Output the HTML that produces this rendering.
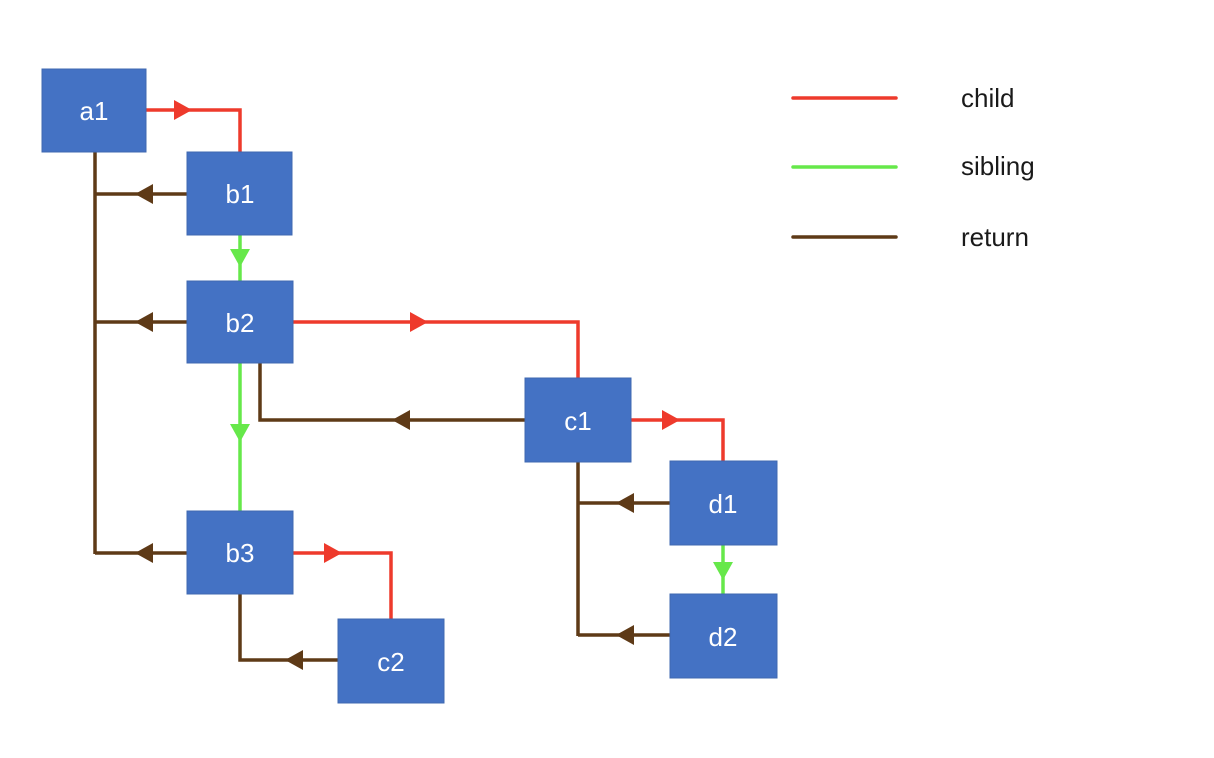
<!DOCTYPE html>
<html><head><meta charset="utf-8"><style>
html,body{margin:0;padding:0;background:#fff;}
svg{display:block;}
text{font-family:"Liberation Sans",sans-serif;}
</style></head><body>
<svg width="1214" height="758" viewBox="0 0 1214 758" xmlns="http://www.w3.org/2000/svg">
<g fill="none" stroke-width="3.5" stroke-linejoin="miter">
<g stroke="#EE3A2C">
<polyline points="146,110 240,110 240,152"/>
<polyline points="293,322 578,322 578,378"/>
<polyline points="631,420 723,420 723,461"/>
<polyline points="293,553 391,553 391,619"/>
</g>
<g stroke="#66E84A">
<line x1="240" y1="235" x2="240" y2="281"/>
<line x1="240" y1="363" x2="240" y2="511"/>
<line x1="723" y1="545" x2="723" y2="594"/>
</g>
<g stroke="#5E3A17">
<line x1="95" y1="152" x2="95" y2="554"/>
<line x1="187" y1="194" x2="95" y2="194"/>
<line x1="187" y1="322" x2="95" y2="322"/>
<line x1="187" y1="553" x2="95" y2="553"/>
<polyline points="525,420 260,420 260,363"/>
<line x1="578" y1="462" x2="578" y2="636"/>
<line x1="670" y1="503" x2="578" y2="503"/>
<line x1="670" y1="635" x2="578" y2="635"/>
<polyline points="338,660 240,660 240,594"/>
</g>
</g>
<g fill="#EE3A2C">
<polygon points="174,100 192,110 174,120"/>
<polygon points="410,312 428,322 410,332"/>
<polygon points="662,410 680,420 662,430"/>
<polygon points="324,543 342,553 324,563"/>
</g>
<g fill="#66E84A">
<polygon points="230,249 250,249 240,267"/>
<polygon points="230,424 250,424 240,442"/>
<polygon points="713,562 733,562 723,580"/>
</g>
<g fill="#5E3A17">
<polygon points="153,184 135,194 153,204"/>
<polygon points="153,312 135,322 153,332"/>
<polygon points="153,543 135,553 153,563"/>
<polygon points="410,410 392,420 410,430"/>
<polygon points="634,493 616,503 634,513"/>
<polygon points="634,625 616,635 634,645"/>
<polygon points="303,650 285,660 303,670"/>
</g>
<g fill="#4472C4" stroke="#3F68B0" stroke-width="1">
<rect x="42" y="69" width="104" height="83"/>
<rect x="187" y="152" width="105" height="83"/>
<rect x="187" y="281" width="106" height="82"/>
<rect x="525" y="378" width="106" height="84"/>
<rect x="670" y="461" width="107" height="84"/>
<rect x="670" y="594" width="107" height="84"/>
<rect x="187" y="511" width="106" height="83"/>
<rect x="338" y="619" width="106" height="84"/>
</g>
<g fill="#fff" font-size="26" text-anchor="middle">
<text x="94" y="120">a1</text>
<text x="240" y="203">b1</text>
<text x="240" y="332">b2</text>
<text x="578" y="430">c1</text>
<text x="723" y="513">d1</text>
<text x="723" y="646">d2</text>
<text x="240" y="562">b3</text>
<text x="391" y="671">c2</text>
</g>
<g stroke-width="3.5" stroke-linecap="round">
<line x1="793" y1="98" x2="896" y2="98" stroke="#EE3A2C"/>
<line x1="793" y1="167" x2="896" y2="167" stroke="#66E84A"/>
<line x1="793" y1="237" x2="896" y2="237" stroke="#5E3A17"/>
</g>
<g fill="#1a1a1a" font-size="26">
<text x="961" y="107">child</text>
<text x="961" y="175">sibling</text>
<text x="961" y="246">return</text>
</g>
</svg>
</body></html>
